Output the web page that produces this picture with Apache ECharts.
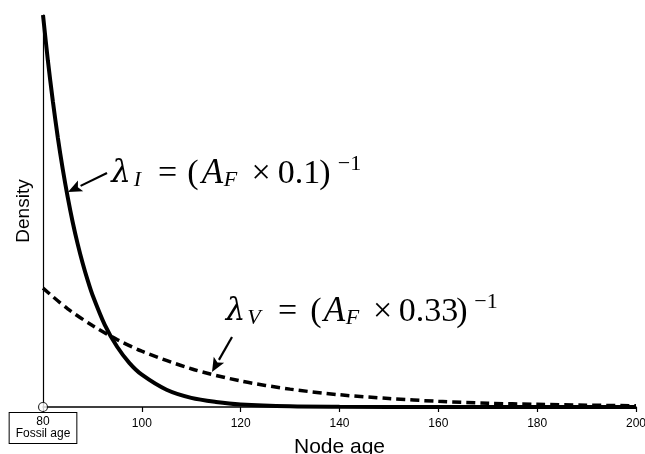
<!DOCTYPE html>
<html>
<head>
<meta charset="utf-8">
<script src="https://cdn.jsdelivr.net/npm/echarts@6/dist/echarts.min.js"></script>
<style>
html, body { margin: 0; padding: 0; background: #fff; }
#chart { width: 645px; height: 454px; }
</style>
</head>
<body>
<div id="chart"></div>
<script>
// values
const fossilAge = 80
const fossilLabel = 'Fossil age'

const ageI = [80, 81, 82, 83, 84, 85, 86, 87, 88, 89, 90, 92.5, 95, 97.5, 100, 105, 110, 115, 120, 130, 140, 160, 200]
const densityI = [0.125, 0.1103, 0.0974, 0.0859, 0.0758, 0.0669, 0.059, 0.0521, 0.046, 0.0406, 0.0358, 0.0262, 0.0192, 0.014, 0.0103, 0.0055, 0.0029, 0.0016, 0.0008, 0.0002, 0.00007, 0.00001, 0]

const ageV = [80, 85, 90, 95, 100, 110, 120, 130, 140, 150, 160, 170, 180, 190, 200]
const densityV = [0.0379, 0.0313, 0.026, 0.0215, 0.0178, 0.0122, 0.0083, 0.0057, 0.0039, 0.0027, 0.0018, 0.0012, 0.00086, 0.00059, 0.0004]

const zip = (xs, ys) => xs.map((x, i) => [x, ys[i]])

const serif = 'Liberation Serif'
const sans = 'Liberation Sans'

// pieces of the two formulas: [text, centre x, kind]
const formulaI = [
  ['λ', 121, 'lam'], ['I', 137.5, 'sub'], ['=', 167.5, 'rm'], ['(', 193, 'rm'],
  ['A', 212.5, 'it'], ['F', 230.5, 'sub'], ['×', 261, 'rm'], ['0.1', 299, 'rm'],
  [')', 325, 'rm'], ['−1', 349.5, 'sup'],
]
const formulaV = [
  ['λ', 235.5, 'lam'], ['V', 254, 'sub'], ['=', 287.5, 'rm'], ['(', 316, 'rm'],
  ['A', 334.5, 'it'], ['F', 352.5, 'sub'], ['×', 382.5, 'rm'], ['0.33', 428.5, 'rm'],
  [')', 462, 'rm'], ['−1', 486, 'sup'],
]

function formula(pieces, y) {
  const kinds = {
    lam: { size: 31, italic: true, dy: 0, font: 'DejaVu Serif' },
    it: { size: 35, italic: true, dy: 0, font: serif },
    rm: { size: 34, italic: false, dy: 0, font: serif },
    sub: { size: 22, italic: true, dy: 6, font: serif },
    sup: { size: 22, italic: false, dy: -10, font: serif },
  }
  return pieces.map(([t, cx, kind]) => {
    const k = kinds[kind]
    return {
      type: 'text',
      x: cx,
      y: y + k.dy,
      z: 100,
      style: {
        text: t,
        fill: '#000',
        fontFamily: k.font,
        fontSize: k.size,
        fontStyle: k.italic ? 'italic' : 'normal',
        align: 'center',
        verticalAlign: 'middle',
      },
    }
  })
}

function arrow(x1, y1, x2, y2) {
  const a = Math.atan2(y2 - y1, x2 - x1)
  const len = 14
  const w = 6
  const bx = x2 - len * Math.cos(a)
  const by = y2 - len * Math.sin(a)
  const nx = -Math.sin(a) * w
  const ny = Math.cos(a) * w
  return [
    {
      type: 'line',
      shape: { x1: x1, y1: y1, x2: bx, y2: by },
      style: { stroke: '#000', lineWidth: 2.2 },
      z: 100,
    },
    {
      type: 'polygon',
      shape: { points: [[x2, y2], [bx + nx, by + ny], [bx + 3 * Math.cos(a), by + 3 * Math.sin(a)], [bx - nx, by - ny]] },
      style: { fill: '#000' },
      z: 100,
    },
  ]
}

const chart = echarts.init(document.getElementById('chart'))

chart.setOption({
  animation: false,
  grid: { left: 43, right: 9, top: 15, bottom: 47, outerBoundsMode: 'none', containLabel: false },
  xAxis: [
    {
      type: 'value',
      min: 80,
      max: 200,
      interval: 20,
      axisLine: { lineStyle: { color: '#000', width: 1.5 } },
      axisTick: { length: 5, lineStyle: { color: '#000', width: 1.2 } },
      axisLabel: {
        color: '#000',
        fontFamily: sans,
        fontSize: 12,
        margin: 11,
        formatter: (v) => (v === fossilAge ? '' : String(v)),
      },
      splitLine: { show: false },
      name: 'Node age',
      nameLocation: 'middle',
      nameGap: 30,
      nameTextStyle: { color: '#000', fontFamily: sans, fontSize: 21 },
    },
    {
      type: 'value',
      min: 80,
      max: 200,
      position: 'bottom',
      axisLine: { show: false },
      axisTick: { show: false },
      splitLine: { show: false },
      axisLabel: {
        customValues: [fossilAge],
        formatter: (v) => v + '\n' + fossilLabel,
        color: '#000',
        fontFamily: sans,
        fontSize: 12,
        lineHeight: 12,
        margin: 6,
        padding: [3, 6, 3, 6],
        borderColor: '#000',
        borderWidth: 1,
        backgroundColor: '#fff',
      },
    },
  ],
  yAxis: {
    type: 'value',
    min: 0,
    max: 0.125,
    axisLine: { show: true, lineStyle: { color: '#000', width: 1.2 } },
    axisTick: { show: false },
    axisLabel: { show: false },
    splitLine: { show: false },
    name: 'Density',
    nameLocation: 'middle',
    nameGap: 10,
    nameTextStyle: { color: '#000', fontFamily: sans, fontSize: 19 },
  },
  series: [
    {
      name: 'lambda V',
      type: 'line',
      data: zip(ageV, densityV),
      smooth: 0.3,
      showSymbol: false,
      clip: false,
      lineStyle: { color: '#000', width: 3.5, type: [9, 5], cap: 'butt' },
    },
    {
      name: 'lambda I',
      type: 'line',
      data: zip(ageI, densityI),
      smooth: 0.3,
      showSymbol: false,
      clip: false,
      lineStyle: { color: '#000', width: 4 },
    },
    {
      name: 'fossil',
      type: 'scatter',
      data: [[fossilAge, 0]],
      symbol: 'circle',
      symbolSize: 9,
      z: 10,
      itemStyle: { color: '#fff', borderColor: '#000', borderWidth: 1.2 },
    },
  ],
  graphic: [
    ...formula(formulaI, 174),
    ...formula(formulaV, 312),
    ...arrow(107, 173, 68, 192),
    ...arrow(232, 337, 212, 372),
  ],
})
</script>
</body>
</html>
